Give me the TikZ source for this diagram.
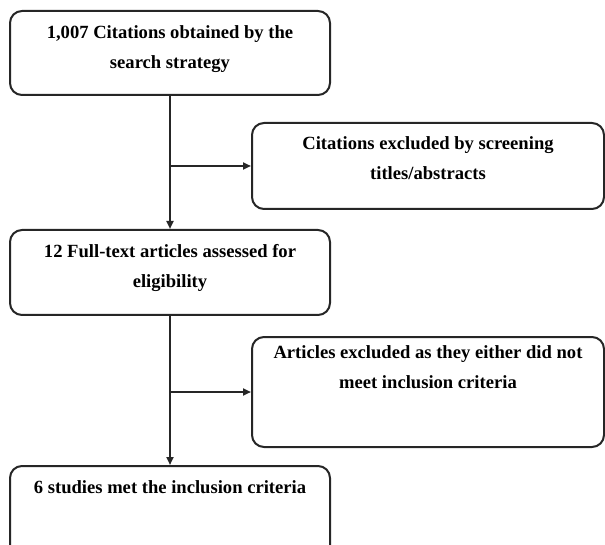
\documentclass[tikz,border=0pt]{standalone}
\usepackage{fontspec}
\setmainfont{Liberation Serif}
\usetikzlibrary{arrows.meta}
\begin{document}
\begin{tikzpicture}[x=1pt,y=-1pt,
  box/.style={draw=black!85, line width=2pt, rounded corners=12pt, fill=white},
  lbl/.style={anchor=north, inner sep=0pt, align=center,
    font=\bfseries\fontsize{18.6}{30}\selectfont},
  conn/.style={draw=black!85, line width=2pt, -{Triangle[length=8pt,width=7pt]}}]
\useasboundingbox (0,0) rectangle (605,545);
\begin{scope}
\clip (0,0) rectangle (605,545);
% boxes
\node[box, minimum width=320pt, minimum height=84pt, anchor=north west] (b1) at (9,10) {};
\node[box, minimum width=352pt, minimum height=86pt, anchor=north west] (b2) at (251,122) {};
\node[box, minimum width=320pt, minimum height=85pt, anchor=north west] (b3) at (9,229) {};
\node[box, minimum width=352pt, minimum height=110pt, anchor=north west] (b4) at (251,336) {};
\node[box, minimum width=320pt, minimum height=95pt, anchor=north west] (b5) at (9,465) {};
\end{scope}
% texts
\node[lbl] (t1) at ([yshift=-15pt]b1.north) {1,007 Citations obtained by the\\search strategy};
\node[lbl] (t2) at ([yshift=-14.5pt]b2.north) {Citations excluded by screening\\titles/abstracts};
\node[lbl] (t3) at ([yshift=-15pt]b3.north) {12 Full-text articles assessed for\\eligibility};
\node[lbl] (t4) at ([yshift=-9.5pt]b4.north) {Articles excluded as they either did not\\meet inclusion criteria};
\node[lbl] (t5) at ([yshift=-15.5pt]b5.north) {6 studies met the inclusion criteria};
% connectors
\coordinate (j1) at (b1.south |- b2.west);
\coordinate (j2) at (b3.south |- b4.west);
\draw[conn] (b1.south) -- (b3.north);
\draw[conn] (j1) -- (b2.west);
\draw[conn] (b3.south) -- (b5.north);
\draw[conn] (j2) -- (b4.west);
\end{tikzpicture}
\end{document}
